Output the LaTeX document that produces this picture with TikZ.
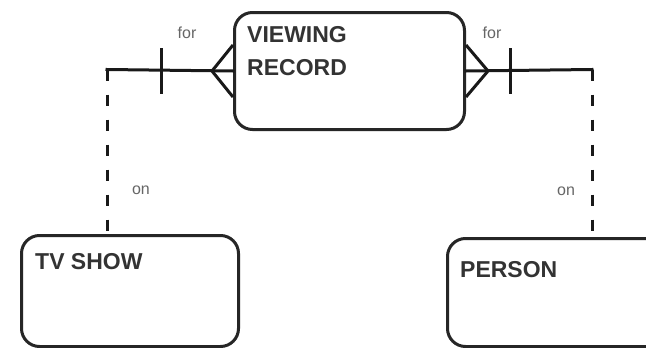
\documentclass[tikz,border=0pt]{standalone}
\usepackage{fontspec}
\setmainfont{Liberation Sans}
\usetikzlibrary{calc}
\begin{document}
\begin{tikzpicture}[x=1pt,y=-1pt,
  entity/.style={draw=black!85, line width=3pt, rounded corners=18pt,
    inner sep=0pt, anchor=north west},
  ename/.style={font=\fontsize{23}{33}\selectfont\bfseries, text=black!80,
    anchor=west, inner sep=0pt, align=left},
  rel/.style={line width=3pt, draw=black!90, line cap=rect, line join=round},
  opt/.style={rel, line cap=butt, dash pattern=on 11pt off 14pt},
  role/.style={font=\fontsize{16}{18}\selectfont, text=black!60, inner sep=0pt}]
\clip (0,0) rectangle (646,348);
\fill[white] (0,0) rectangle (646,348);

% entities
\node[entity, minimum width=230pt, minimum height=117pt] (vr) at (233,11) {};
\node[entity, minimum width=217pt, minimum height=111pt] (tv) at (20,234) {};
\node[entity, minimum width=230pt, minimum height=108pt] (pr) at (446,237) {};

\node[ename] (vrname) at (247,51.5) {VIEWING\\RECORD};
\node[ename] (tvname) at (35,262) {TV SHOW};
\node[ename] (prname) at (460,270) {PERSON};

% corners where the relationship lines turn down
\coordinate (lc) at (107,69.5);
\coordinate (rc) at (592,69.5);
\coordinate (lf) at ($(vr.west)+(-21,0)$);
\coordinate (rf) at ($(vr.east)+(22,0)$);

% viewing record -- tv show
\draw[rel] (vr.west) -- (lc);
\draw[opt] (lc) -- (lc |- tv.north);
\draw[rel, line cap=butt] ($(vr.west)+(0,-26)$) -- (lf) -- ($(vr.west)+(0,26)$);
\draw[rel, line cap=butt] ($(vr.west)+(-72,-23)$) -- ($(vr.west)+(-72,23)$);

% viewing record -- person
\draw[rel] (vr.east) -- (rc);
\draw[opt] (rc) -- (rc |- pr.north);
\draw[rel, line cap=butt] ($(vr.east)+(0,-26)$) -- (rf) -- ($(vr.east)+(0,26)$);
\draw[rel, line cap=butt] ($(vr.east)+(44,-23)$) -- ($(vr.east)+(44,23)$);

% role names
\node[role] (for1) at (187,33) {for};
\node[role] (for2) at (492,33) {for};
\node[role] (on1) at (141,190) {on};
\node[role] (on2) at (566,191) {on};
\end{tikzpicture}
\end{document}
